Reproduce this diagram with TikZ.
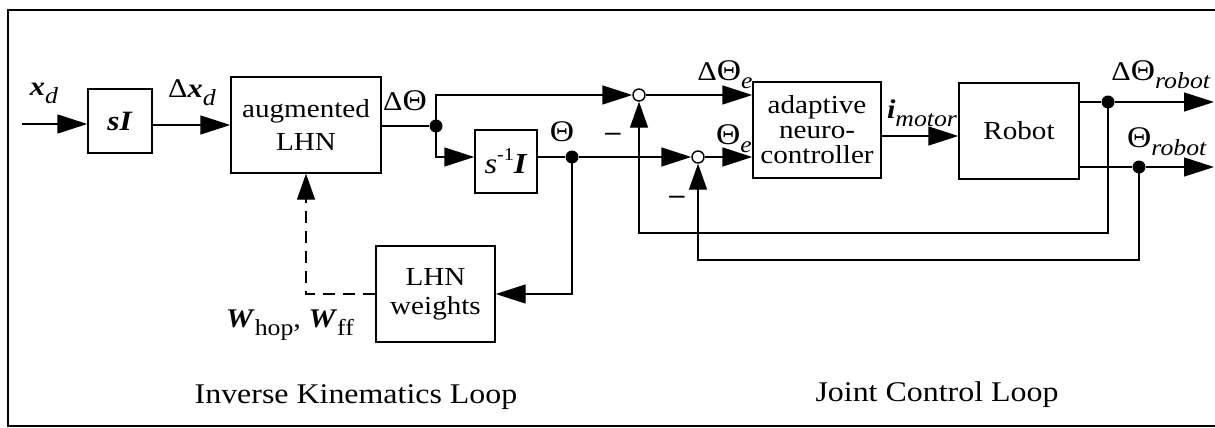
\documentclass[tikz,border=0pt]{standalone}
\usepackage{fontspec}
\setmainfont[FakeStretch=1.12]{Liberation Serif}
\usetikzlibrary{arrows.meta,calc}
\newcommand{\bi}[1]{\textbf{\textit{#1}}}
\newcommand{\sub}[1]{\raisebox{-0.3em}{\fontsize{23}{23}\selectfont #1}}
\newcommand{\supr}[1]{\raisebox{0.45em}{\fontsize{18}{18}\selectfont #1}}
\newcommand{\Th}{{\fontsize{30}{30}\selectfont Θ}}
\begin{document}
\begin{tikzpicture}[x=1pt,y=-1pt,
  font=\fontsize{26}{25}\selectfont,
  blk/.style={draw, line width=1.4pt, inner sep=0pt, align=center},
  sig/.style={line width=1.4pt},
  arr/.style={sig, -{Triangle[length=30pt,width=19pt]}},
  varr/.style={sig, -{Triangle[length=26pt,width=18pt]}},
  sumc/.style={circle, draw, fill=white, line width=1.4pt, minimum size=12pt, inner sep=0pt},
  dotn/.style={circle, fill, minimum size=13pt, inner sep=0pt},
  lbl/.style={inner sep=0pt, font=\fontsize{27}{27}\selectfont},
  captxt/.style={inner sep=0pt, font=\fontsize{28.5}{30}\selectfont}]

\useasboundingbox (0,0) rectangle (1215,428);
\draw[line width=1.4pt] (1215,10) -- (8,10) -- (8,426) -- (1215,426);

% blocks
\node[blk, minimum width=64pt, minimum height=64pt, font=\fontsize{28}{28}\selectfont] (sI) at (120,121) {\bi{sI}};
\node[blk, minimum width=150pt, minimum height=96pt] (aug) at (306,125) {augmented\\[8pt]LHN};
\node[blk, minimum width=62pt, minimum height=63pt, font=\fontsize{29}{29}\selectfont] (inv) at (506,161.5) {\textit{s}\supr{-1}\bi{I}};
\node[blk, minimum width=119pt, minimum height=96pt] (wts) at (435.5,294) {LHN\\[4pt]weights};
\node[blk, minimum width=128pt, minimum height=96pt] (ctl) at (817,130) {adaptive\\neuro-\\controller};
\node[blk, minimum width=120pt, minimum height=96pt] (rob) at (1019,131) {Robot};

% junctions
\node[sumc] (s1) at (639,95) {};
\node[sumc] (s2) at (698,157) {};
\node[dotn] (d1) at (436,126) {};
\node[dotn] (d2) at (572,157) {};
\node[dotn] (d3) at (1108,102) {};
\node[dotn] (d4) at (1139,167) {};

% free ends
\coordinate (in) at (22,124);
\coordinate (o1) at (1214,102);
\coordinate (o2) at (1214,167);

% connectors
\draw[arr] (in) -- (in -| sI.west);
\draw[arr] (sI.east |- aug.west) -- (aug.west);
\draw[sig] (aug.east |- d1) -- (d1);
\draw[arr] (d1.center) -- (d1.center |- s1) -- (s1);
\draw[arr] (d1.center) -- (d1.center |- 0,157) -- (inv.west |- 0,157);
\draw[sig] (inv.east |- d2) -- (d2);
\draw[arr] (d2) -- (s2);
\draw[arr] (d2.center) -- (d2.center |- wts.east) -- (wts.east);
\draw[varr, dash pattern=on 12pt off 8pt] (wts.west) -- (wts.west -| aug.south) -- (aug.south);
\draw[arr] (s1) -- (s1 -| ctl.west);
\draw[arr] (s2) -- (s2 -| ctl.west);
\draw[arr] (ctl.east |- 0,136) -- (rob.west |- 0,136);
\draw[sig] (rob.east |- d3) -- (d3);
\draw[sig] (rob.east |- d4) -- (d4);
\draw[arr] (d3) -- (o1);
\draw[arr] (d4) -- (o2);
\draw[varr] (d3.center) -- (d3.center |- 0,233) -- (s1.center |- 0,233) -- (s1.south);
\draw[varr] (d4.center) -- (d4.center |- 0,260) -- (s2.center |- 0,260) -- (s2.south);

% labels
\node[lbl] (lxd) at (44,93) {\bi{x}\sub{\textit{d}}};
\node[lbl] (ldxd) at (192,93) {Δ\bi{x}\sub{\textit{d}}};
\node[lbl] (ldth) at (405,101) {Δ\Th};
\node[lbl] (lth) at (562,132) {\Th};
\node[lbl] (lw) at (290,325) {\bi{W}\sub{hop}, \bi{W}\sub{ff}};
\node[lbl] (ldthe) at (725,75) {Δ\Th\sub{\textit{e}}};
\node[lbl] (lthe) at (734,139) {\Th\sub{\textit{e}}};
\node[lbl] (lim) at (922,113) {\bi{i}\sub{\textit{motor}}};
\node[lbl] (ldthr) at (1161,75) {Δ\Th\sub{\textit{robot}}};
\node[lbl] (lthr) at (1167,142) {\Th\sub{\textit{robot}}};
\node[lbl] (m1) at (613,137) {\textbf{–}};
\node[lbl] (m2) at (677,200) {\textbf{–}};
\node[captxt] (c1) at (356,397) {Inverse Kinematics Loop};
\node[captxt] (c2) at (937,395) {Joint Control Loop};
\end{tikzpicture}
\end{document}
